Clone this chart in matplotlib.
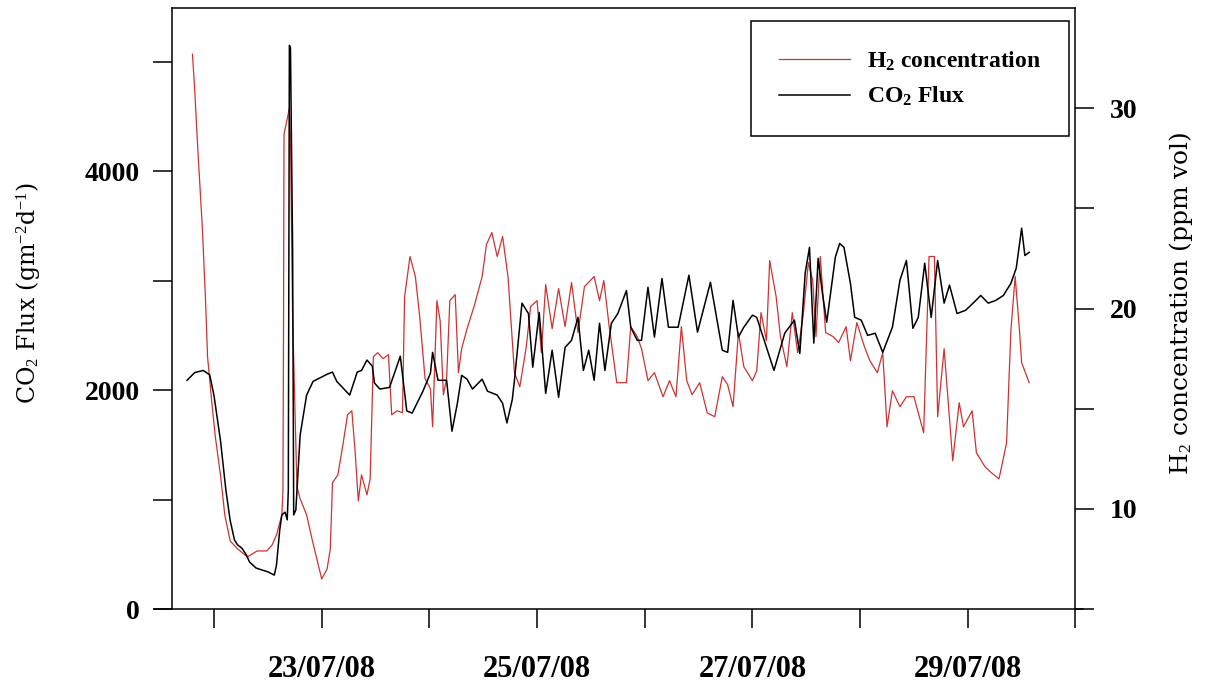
import matplotlib
matplotlib.use("Agg")
import matplotlib.pyplot as plt

plt.rcParams['font.family'] = 'Liberation Serif'
plt.rcParams['mathtext.fontset'] = 'custom'
plt.rcParams['mathtext.rm'] = 'Liberation Serif'
plt.rcParams['mathtext.it'] = 'Liberation Serif:italic'
plt.rcParams['mathtext.bf'] = 'Liberation Serif:bold'

# time in day-of-July 2008
co2_day = [21.75, 21.82, 21.90, 21.96, 22.00, 22.06, 22.11, 22.15, 22.19, 22.22,
           22.26, 22.30, 22.33, 22.39, 22.45, 22.50, 22.56, 22.58, 22.61, 22.63,
           22.66, 22.68, 22.69, 22.70, 22.71, 22.73, 22.74, 22.76, 22.80, 22.86,
           22.92, 22.98, 23.05, 23.10, 23.14, 23.26, 23.33, 23.37, 23.42, 23.47,
           23.49, 23.54, 23.63, 23.73, 23.79, 23.84, 23.94, 24.01, 24.03, 24.08,
           24.16, 24.21, 24.26, 24.30, 24.35, 24.40, 24.49, 24.54, 24.63, 24.68,
           24.72, 24.77, 24.79, 24.86, 24.92, 24.96, 25.02, 25.05, 25.08, 25.14,
           25.20, 25.26, 25.32, 25.38, 25.43, 25.48, 25.53, 25.58, 25.63, 25.69,
           25.75, 25.83, 25.87, 25.93, 25.97, 26.03, 26.09, 26.16, 26.22, 26.31,
           26.41, 26.49, 26.61, 26.72, 26.77, 26.82, 26.87, 26.92, 27.00, 27.04,
           27.20, 27.30, 27.39, 27.44, 27.49, 27.53, 27.57, 27.61, 27.65, 27.69,
           27.77, 27.81, 27.85, 27.91, 27.95, 28.01, 28.07, 28.14, 28.21, 28.30,
           28.37, 28.43, 28.49, 28.54, 28.60, 28.66, 28.72, 28.78, 28.83, 28.90,
           28.98, 29.06, 29.12, 29.19, 29.26, 29.33, 29.40, 29.45, 29.50, 29.53,
           29.57]
co2_flux = [2090, 2160, 2180, 2140, 1950, 1540, 1090, 810, 630, 585,
            555, 495, 430, 375, 355, 340, 310, 400, 720, 860,
            885, 815, 1085, 5150, 5130, 3280, 860, 905, 1590, 1955,
            2080, 2110, 2145, 2165, 2080, 1955, 2165, 2180, 2275, 2220,
            2065, 2010, 2025, 2310, 1810, 1790, 1990, 2155, 2345, 2090,
            2090, 1625, 1880, 2135, 2100, 2010, 2100, 1990, 1955, 1880,
            1700, 1915, 2090, 2795, 2700, 2210, 2710, 2335, 1970, 2365,
            1935, 2390, 2455, 2665, 2180, 2365, 2090, 2610, 2180, 2610,
            2700, 2910, 2575, 2455, 2455, 2940, 2485, 3020, 2575, 2575,
            3050, 2530, 2985, 2365, 2345, 2820, 2485, 2575, 2685, 2665,
            2180, 2520, 2640, 2335, 3070, 3305, 2430, 3205, 2885, 2620,
            3215, 3340, 3305, 2975, 2665, 2640, 2500, 2520, 2345, 2575,
            3005, 3185, 2565, 2665, 3160, 2665, 3185, 2795, 2960, 2700,
            2730, 2805, 2865, 2795, 2820, 2865, 2975, 3115, 3480, 3230,
            3260]

h2_day = [21.80, 21.82, 21.85, 21.89, 21.92, 21.94, 21.98, 22.01, 22.06, 22.10,
          22.15, 22.22, 22.31, 22.40, 22.49, 22.54, 22.58, 22.63, 22.64, 22.645,
          22.65, 22.70, 22.71, 22.73, 22.77, 22.80, 22.86, 22.91, 22.96, 23.00,
          23.05, 23.08, 23.10, 23.15, 23.20, 23.24, 23.28, 23.31, 23.34, 23.37,
          23.42, 23.45, 23.48, 23.52, 23.57, 23.62, 23.65, 23.70, 23.75, 23.77,
          23.82, 23.87, 23.91, 23.96, 24.01, 24.03, 24.07, 24.10, 24.13, 24.16,
          24.19, 24.24, 24.27, 24.30, 24.35, 24.42, 24.49, 24.53, 24.58, 24.63,
          24.68, 24.73, 24.78, 24.79, 24.84, 24.90, 24.94, 25.00, 25.04, 25.08,
          25.14, 25.20, 25.26, 25.32, 25.38, 25.44, 25.53, 25.58, 25.62, 25.67,
          25.74, 25.83, 25.87, 25.93, 25.97, 26.03, 26.09, 26.17, 26.23, 26.29,
          26.34, 26.39, 26.44, 26.51, 26.58, 26.65, 26.72, 26.77, 26.82, 26.87,
          26.92, 27.00, 27.04, 27.08, 27.13, 27.16, 27.22, 27.26, 27.32, 27.37,
          27.42, 27.47, 27.52, 27.56, 27.59, 27.63, 27.68, 27.75, 27.80, 27.87,
          27.91, 27.97, 28.04, 28.09, 28.16, 28.21, 28.25, 28.30, 28.37, 28.43,
          28.50, 28.59, 28.64, 28.69, 28.72, 28.78, 28.86, 28.92, 28.96, 29.04,
          29.08, 29.16, 29.22, 29.29, 29.36, 29.40, 29.44, 29.48, 29.50, 29.57]
h2_ppm = [32.7, 31.0, 27.9, 24.2, 20.6, 17.6, 15.3, 13.7, 11.7, 9.7,
          8.4, 8.0, 7.6, 7.9, 7.9, 8.2, 8.7, 9.7, 10.9, 18.2,
          28.7, 30.0, 28.5, 19.6, 11.1, 10.5, 9.7, 8.5, 7.4, 6.5,
          7.0, 8.0, 11.3, 11.7, 13.3, 14.7, 14.9, 12.9, 10.4, 11.7,
          10.7, 11.5, 17.6, 17.8, 17.5, 17.7, 14.7, 14.9, 14.8, 20.6,
          22.6, 21.6, 19.6, 16.5, 16.0, 14.1, 20.4, 19.4, 15.7, 16.5,
          20.4, 20.7, 16.8, 18.0, 19.0, 20.2, 21.6, 23.2, 23.8, 22.6,
          23.6, 21.6, 17.6, 16.8, 16.1, 18.1, 20.1, 20.4, 17.8, 21.2,
          19.0, 21.0, 19.1, 21.3, 18.8, 21.1, 21.6, 20.4, 21.4, 19.1,
          16.3, 16.3, 19.1, 18.6, 18.0, 16.4, 16.8, 15.6, 16.4, 15.6,
          19.1, 16.4, 15.7, 16.3, 14.8, 14.6, 16.6, 16.2, 15.1, 18.8,
          17.1, 16.4, 16.9, 19.8, 18.4, 22.4, 20.6, 18.6, 17.1, 19.8,
          17.8, 19.6, 22.3, 21.4, 18.6, 22.6, 18.8, 18.6, 18.3, 19.1,
          17.4, 19.3, 18.1, 17.4, 16.8, 17.8, 14.1, 15.9, 15.1, 15.6,
          15.6, 13.8, 22.6, 22.6, 14.6, 18.0, 12.4, 15.3, 14.1, 14.9,
          12.8, 12.1, 11.8, 11.5, 13.3, 18.9, 21.6, 18.9, 17.3, 16.3]

day_ticks = [22, 23, 24, 25, 26, 27, 28, 29, 30]
day_labels = ['', '23/07/08', '', '25/07/08', '', '27/07/08', '', '29/07/08', '']

fig = plt.figure(figsize=(12.09, 6.82), dpi=100)
ax = fig.add_axes([0.1274, 0.107, 0.7684, 0.881])
ax2 = ax.twinx()

ax2.plot(h2_day, h2_ppm, color='#cc3333', lw=0.9, label='H$_\\mathbf{2}$ concentration')
ax.plot(co2_day, co2_flux, color='black', lw=1.1, label='CO$_\\mathbf{2}$ Flux')

# black line above red one
ax.set_zorder(ax2.get_zorder() + 1)
ax.patch.set_visible(False)

ax.set_xlim(21.443, 30.07)
ax.set_ylim(0, 5490)
ax2.set_ylim(5, 35)

ax.spines['left'].set_position(('data', 21.61))
ax.spines['top'].set_bounds(21.61, 30.0)
ax.spines['right'].set_visible(False)
for s in ['left', 'top', 'bottom']:
    ax2.spines[s].set_visible(False)
ax2.spines['right'].set_position(('data', 30.0))
for s in ax.spines.values():
    s.set_linewidth(1.1)
ax2.spines['right'].set_linewidth(1.1)

ax.set_xticks(day_ticks)
ax.set_xticklabels(day_labels, fontsize=22, fontweight='bold')
ax.set_yticks([0, 2000, 4000])
ax.set_yticks([1000, 3000, 5000], minor=True)
ax.set_yticklabels(['0', '2000', '4000'], fontsize=20, fontweight='bold')
ax2.set_yticks([10, 20, 30])
ax2.set_yticks([5, 15, 25], minor=True)
ax2.set_yticklabels(['10', '20', '30'], fontsize=20, fontweight='bold')

ax.tick_params(axis='x', which='both', direction='out', length=14, width=1.1, pad=19, top=False)
ax.tick_params(axis='y', which='both', direction='out', length=14, width=1.1, pad=9)
ax2.tick_params(axis='y', which='both', direction='out', length=14, width=1.1, pad=11)

ax.set_ylabel('CO$_2$ Flux (gm$^{-2}$d$^{-1}$)', fontsize=17, family='DejaVu Serif',
              va='center')
ax.yaxis.set_label_coords(-0.1356, 0.526)
ax2.set_ylabel('H$_2$ concentration (ppm vol)', fontsize=18, family='DejaVu Serif',
               va='center', rotation=90)
ax2.yaxis.set_label_coords(1.105, 0.509)

h1, l1 = ax2.get_legend_handles_labels()
h2, l2 = ax.get_legend_handles_labels()
leg = ax.legend(h1 + h2, l1 + l2, loc='upper right', bbox_to_anchor=(0.985, 0.978),
                borderaxespad=0, fancybox=False, edgecolor='black', framealpha=1,
                prop={'family': 'Liberation Serif', 'weight': 'bold', 'size': 17},
                handlelength=3.0, handletextpad=0.7, borderpad=1.2, labelspacing=0.5)
leg.get_frame().set_linewidth(1.1)

fig.savefig('out.png', dpi=100)
